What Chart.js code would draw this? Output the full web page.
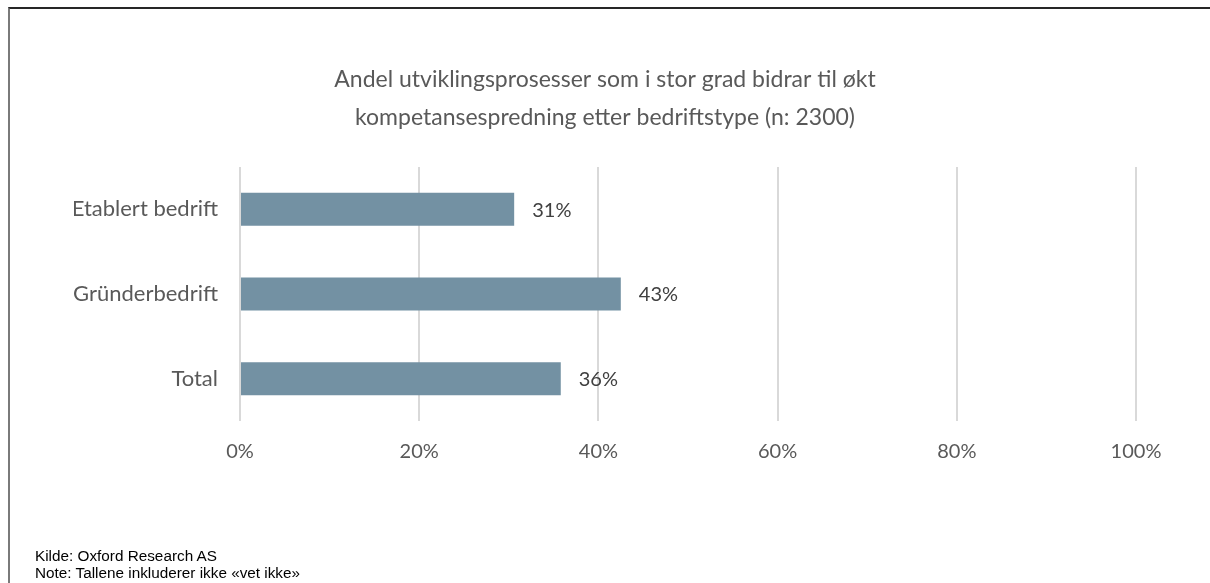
<!DOCTYPE html>
<html>
<head>
<meta charset="utf-8">
<script src="https://cdn.jsdelivr.net/npm/chart.js@4.4.1/dist/chart.umd.min.js"></script>
<style>
    body { margin: 0; background: #fff; }
    #wrap { position: relative; width: 1210px; height: 583px; overflow: hidden; }
    #frame {
        position: absolute; left: 8px; top: 7px; right: -10px; bottom: -10px;
        border-top: 2px solid #262626; border-left: 2px solid #7a7a7a;
    }
    #notes {
        position: absolute; left: 35px; top: 547px;
        font-family: 'Liberation Sans Narrow', 'Arial Narrow', 'Liberation Sans', sans-serif;
        font-size: 15.3px; line-height: 17px; color: #000;
    }
</style>
</head>
<body>
<div id="wrap">
    <canvas id="chart" width="1210" height="583"></canvas>
    <div id="frame"></div>
    <div id="notes">
        Kilde: Oxford Research AS<br>
        Note: Tallene inkluderer ikke «vet ikke»
    </div>
</div>
<script>
const categories = ['Etablert bedrift', 'Gründerbedrift', 'Total'];
const shares = [30.6, 42.5, 35.8];
const tickValues = [0, 20, 40, 60, 80, 100];
const titleLines = ['Andel utviklingsprosesser som i stor grad bidrar til økt', 'kompetansespredning etter bedriftstype (n: 2300)'];

const textGray = '#595959';
const fontName = 'Lato, "Open Sans", sans-serif';

// value labels to the right of each bar
const barLabels = {
    id: 'barLabels',
    afterDatasetsDraw(chart) {
        const ctx = chart.ctx;
        const meta = chart.getDatasetMeta(0);
        ctx.save();
        ctx.font = '20px ' + fontName;
        ctx.fillStyle = '#404040';
        ctx.textAlign = 'left';
        ctx.textBaseline = 'middle';
        meta.data.forEach((bar, i) => {
            ctx.fillText(Math.round(shares[i]) + '%', bar.x + 18, bar.y + 1);
        });
        ctx.restore();
    }
};

new Chart(document.getElementById('chart').getContext('2d'), {
    type: 'bar',
    data: {
        labels: categories,
        datasets: [{
            data: shares,
            backgroundColor: '#7391a3',
            borderWidth: 0,
            categoryPercentage: 1,
            barPercentage: 0.39
        }]
    },
    options: {
        indexAxis: 'y',
        responsive: false,
        animation: false,
        layout: { padding: { left: 74, right: 74, top: 0, bottom: 0 } },
        scales: {
            x: {
                min: 0,
                max: 100,
                afterBuildTicks: (scale) => { scale.ticks = tickValues.map(v => ({ value: v })); },
                afterFit: (scale) => { scale.height = 162; },
                border: { display: false },
                grid: { color: '#d9d9d9', lineWidth: 2, drawTicks: false },
                ticks: {
                    padding: 19,
                    color: textGray,
                    font: { size: 20, family: fontName },
                    callback: (v) => v + '%'
                }
            },
            y: {
                afterFit: (scale) => { scale.width = 166; },
                border: { display: false },
                grid: { display: false, drawTicks: false },
                ticks: {
                    padding: 22,
                    color: textGray,
                    font: { size: 22, family: fontName }
                }
            }
        },
        plugins: {
            legend: { display: false },
            tooltip: { enabled: false },
            title: {
                display: true,
                text: titleLines,
                color: textGray,
                font: { size: 23, family: fontName, weight: 'normal', lineHeight: 1.65 },
                padding: { top: 61, bottom: 30 }
            }
        }
    },
    plugins: [barLabels]
});
</script>
</body>
</html>
